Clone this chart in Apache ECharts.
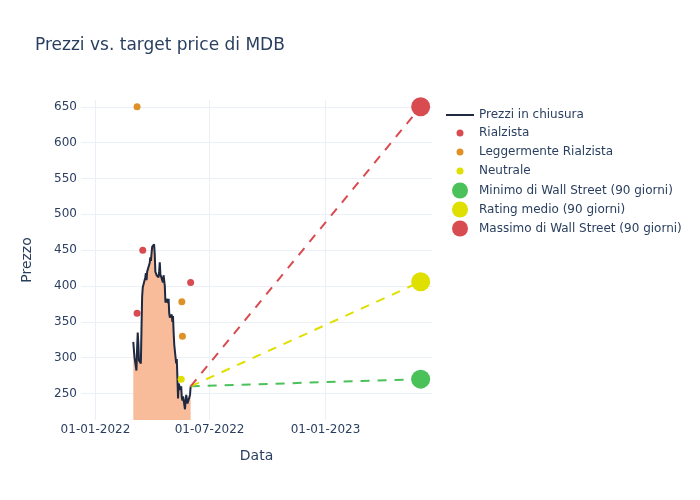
<!DOCTYPE html>
<html><head><meta charset="utf-8">
<script src="https://cdn.jsdelivr.net/npm/echarts@6/dist/echarts.min.js"></script>
<style>html,body{margin:0;padding:0;background:#fff}#c{width:700px;height:500px}</style>
</head><body><div id="c"></div>
<script>
const priceDates = [
'2022-03-02','2022-03-03','2022-03-04','2022-03-07','2022-03-08','2022-03-09','2022-03-10','2022-03-11',
'2022-03-14','2022-03-15','2022-03-16','2022-03-17','2022-03-18','2022-03-21','2022-03-22','2022-03-23',
'2022-03-24','2022-03-25','2022-03-28','2022-03-29','2022-03-30','2022-03-31',
'2022-04-01','2022-04-04','2022-04-05','2022-04-06','2022-04-07','2022-04-08','2022-04-11','2022-04-12',
'2022-04-13','2022-04-14','2022-04-18','2022-04-19','2022-04-20','2022-04-21','2022-04-22','2022-04-25',
'2022-04-26','2022-04-27','2022-04-28','2022-04-29',
'2022-05-02','2022-05-03','2022-05-04','2022-05-05','2022-05-06','2022-05-09','2022-05-10','2022-05-11',
'2022-05-12','2022-05-13','2022-05-16','2022-05-17','2022-05-18','2022-05-19','2022-05-20','2022-05-23',
'2022-05-24','2022-05-25','2022-05-26','2022-05-27','2022-05-31','2022-06-01'];
const prices = [
322,310,300,282,312,335,320,296,
292,340,385,398,396,412,418,408,
420,418,432,440,435,446,
455,458,445,420,418,415,412,420,
433,416,405,415,408,400,377,382,
376,382,362,356,
360,350,358,335,318,292,298,272,
243,264,255,260,244,240,246,228,
240,248,242,236,248,260];
const bullDates = ['2022-03-08','2022-03-17','2022-06-01'];
const bullValues = [362,450,405];
const modBullDates = ['2022-03-08','2022-05-18','2022-05-19'];
const modBullValues = [650,378,330];
const neutralDates = ['2022-05-17'];
const neutralValues = [270];
const targetDate = '2023-06-01';
const targetLow = 270, targetAvg = 406, targetHigh = 650;
const xTickDates = ['2022-01-01','2022-07-01','2023-01-01'];
const yTickValues = [250,300,350,400,450,500,550,600,650];
const xRange = ['2021-12-09','2023-06-19'];

const FONT = 'DejaVu Sans';
const TXT = '#2a3f5f';
const GRID = '#ebf0f8';
const RED = '#d84b50', ORANGE = '#df9127', YELLOW = '#dfdf00', GREEN = '#4ac159';
const ICON_LINE = 'path://M0 0L28 0L28 2L0 2Z';
const ICON_DOT = 'path://M0 0M28 7M14 0A3.5 3.5 0 1 1 14 7A3.5 3.5 0 1 1 14 0Z';
const ICON_BIG = 'path://M0 0M28 16M14 0A8 8 0 1 1 14 16A8 8 0 1 1 14 0Z';

function ts(s){ const p = s.split('-').map(Number); return Date.UTC(p[0], p[1]-1, p[2]); }
function fmt(v){ const d = new Date(v); const pad = n => String(n).padStart(2,'0');
  return pad(d.getUTCDate())+'-'+pad(d.getUTCMonth()+1)+'-'+d.getUTCFullYear(); }

const lastDate = priceDates[priceDates.length-1];
const lastPrice = prices[prices.length-1];
function targetSeries(name, color, val){
  return {
    name, type:'line', symbol:'circle', symbolSize:19, showSymbol:true,
    data:[{value:[ts(lastDate),lastPrice], symbol:'none'}, [ts(targetDate),val]],
    lineStyle:{color, width:2, type:[9,8]},
    itemStyle:{color}, emphasis:{disabled:true}, z:4
  };
}
const legendText = {color:TXT, fontSize:12, fontFamily:FONT, lineHeight:14};
const chart = echarts.init(document.getElementById('c'), null, {renderer:'canvas'});
chart.setOption({
  animation:false,
  backgroundColor:'#fff',
  textStyle:{fontFamily:FONT},
  title:{text:'Prezzi vs. target price di MDB', left:35, top:37, padding:0,
    textStyle:{fontFamily:FONT, fontSize:17, fontWeight:'normal', color:TXT}},
  grid:{left:81, right:268, top:100, bottom:80, containLabel:false},
  legend:[
    {data:[{name:'Prezzi in chiusura', icon:ICON_LINE}], orient:'vertical', left:446, top:108, padding:0,
     itemWidth:28, itemHeight:2, itemGap:5, symbolKeepAspect:false, textStyle:legendText},
    {data:['Rialzista','Leggermente Rialzista','Neutrale'].map(n=>({name:n, icon:ICON_DOT})),
     orient:'vertical', left:446, top:126, padding:0,
     itemWidth:28, itemHeight:7, itemGap:5, symbolKeepAspect:false, textStyle:legendText},
    {data:['Minimo di Wall Street (90 giorni)','Rating medio (90 giorni)','Massimo di Wall Street (90 giorni)'].map(n=>({name:n, icon:ICON_BIG})),
     orient:'vertical', left:446, top:182.5, padding:0,
     itemWidth:28, itemHeight:16, itemGap:3, symbolKeepAspect:false, textStyle:legendText}
  ],
  xAxis:{type:'value', min:ts(xRange[0]), max:ts(xRange[1]),
    name:'Data', nameLocation:'middle', nameGap:29,
    nameTextStyle:{color:TXT, fontSize:14, fontFamily:FONT},
    axisLine:{show:false},
    axisTick:{show:false, customValues:xTickDates.map(ts)},
    axisLabel:{customValues:xTickDates.map(ts), color:TXT, fontSize:12, fontFamily:FONT, margin:4,
      formatter:fmt},
    splitLine:{show:true, lineStyle:{color:GRID, width:1}}
  },
  yAxis:{type:'value', min:213, max:659.5,
    name:'Prezzo', nameLocation:'middle', nameGap:47,
    nameTextStyle:{color:TXT, fontSize:14, fontFamily:FONT},
    axisLine:{show:false},
    axisTick:{show:false, customValues:yTickValues},
    axisLabel:{customValues:yTickValues, color:TXT, fontSize:12, fontFamily:FONT, margin:4},
    splitLine:{show:true, lineStyle:{color:GRID, width:1}}
  },
  series:[
    {name:'Prezzi in chiusura', type:'line', symbol:'none', showSymbol:false,
     data:priceDates.map((d,i)=>[ts(d),prices[i]]),
     lineStyle:{color:'#1f2940', width:2}, itemStyle:{color:'#1f2940'},
     areaStyle:{origin:'start', color:'#f8bc9a', opacity:1}, emphasis:{disabled:true}, z:2},
    {name:'Rialzista', type:'scatter', symbol:'circle', symbolSize:7,
     data:bullDates.map((d,i)=>[ts(d),bullValues[i]]), itemStyle:{color:RED, opacity:1}, z:3},
    {name:'Leggermente Rialzista', type:'scatter', symbol:'circle', symbolSize:7,
     data:modBullDates.map((d,i)=>[ts(d),modBullValues[i]]), itemStyle:{color:ORANGE, opacity:1}, z:3},
    {name:'Neutrale', type:'scatter', symbol:'circle', symbolSize:7,
     data:neutralDates.map((d,i)=>[ts(d),neutralValues[i]]), itemStyle:{color:YELLOW, opacity:1}, z:3},
    targetSeries('Minimo di Wall Street (90 giorni)', GREEN, targetLow),
    targetSeries('Rating medio (90 giorni)', YELLOW, targetAvg),
    targetSeries('Massimo di Wall Street (90 giorni)', RED, targetHigh)
  ]
});
</script></body></html>
